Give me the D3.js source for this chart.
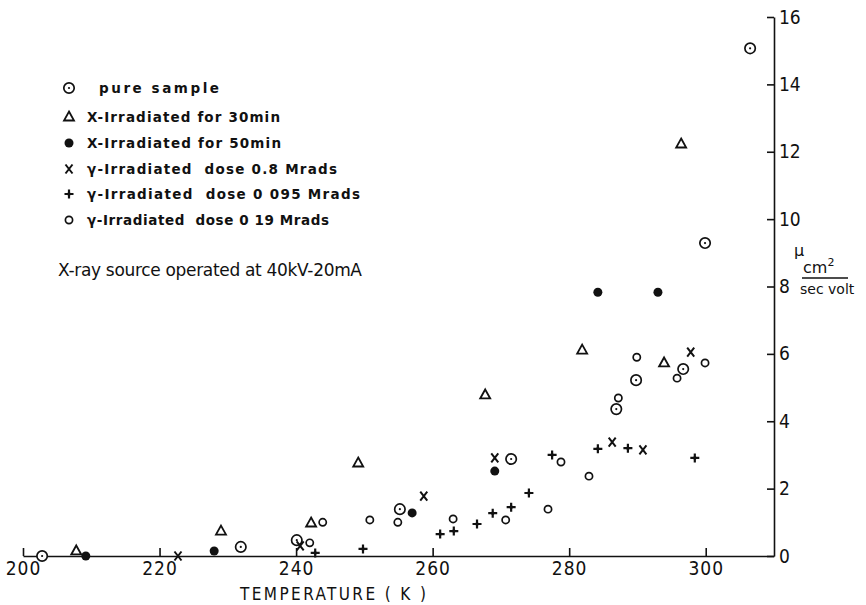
<!DOCTYPE html>
<html>
<head>
<meta charset="utf-8">
<script src="https://cdn.jsdelivr.net/npm/d3@7"></script>
<style>
  body { margin: 0; background: #fff; }
  svg { display: block; }
  text { fill: #111; }
</style>
</head>
<body>
<div id="chart-container"></div>
<script>
// Temperature (K) and mobility mu (cm2/sec volt), one pair of arrays per series
const pureT  = [202.8, 231.9, 240.1, 255.2, 271.5, 286.9, 289.8, 296.7, 299.9, 306.5];
const pureMu = [0, 0.27, 0.47, 1.39, 2.88, 4.36, 5.22, 5.55, 9.29, 15.07];

const x30T  = [207.8, 229.0, 242.2, 249.1, 267.7, 281.9, 293.9, 296.4];
const x30Mu = [0.15, 0.74, 0.98, 2.76, 4.78, 6.11, 5.73, 12.23];

const x50T  = [209.2, 228.0, 257.0, 269.1, 284.2, 293.0];
const x50Mu = [0, 0.15, 1.28, 2.52, 7.83, 7.83];

const g08T  = [222.7, 240.6, 258.7, 269.1, 286.3, 290.8, 297.8];
const g08Mu = [0, 0.3, 1.78, 2.91, 3.38, 3.15, 6.05];

const g0095T  = [242.8, 249.8, 261.1, 263.1, 266.5, 268.8, 271.5, 274.1, 277.5, 284.2, 288.6, 298.4];
const g0095Mu = [0.09, 0.21, 0.65, 0.74, 0.95, 1.27, 1.45, 1.87, 3.0, 3.18, 3.2, 2.91];

const g019T  = [242.0, 243.9, 250.8, 254.9, 263.0, 270.7, 276.9, 278.8, 282.9, 287.2, 289.9, 295.8, 299.9];
const g019Mu = [0.39, 1.0, 1.07, 1.0, 1.1, 1.07, 1.39, 2.79, 2.37, 4.69, 5.9, 5.28, 5.73];

const legendLabels = [
  "pure sample",
  "X-Irradiated for 30min",
  "X-Irradiated for 50min",
  "γ-Irradiated  dose 0.8 Mrads",
  "γ-Irradiated  dose 0 095 Mrads",
  "γ-Irradiated  dose 0 19 Mrads"
];
const xTicks = [200, 220, 240, 260, 280, 300];
const yTicks = [0, 2, 4, 6, 8, 10, 12, 14, 16];

var width = 866, height = 605;
var ink = "#111";

var svg = d3.select("#chart-container")
  .append("svg")
  .attr("width", width)
  .attr("height", height);

// scales: bottom axis runs from 200 K to the right hand axis
var x = d3.scaleLinear().domain([200, 310]).range([23, 774]);
var y = d3.scaleLinear().domain([0, 16]).range([556, 17]);

// X axis (ticks point up, into the plot)
var xAxis = svg.append("g")
  .attr("transform", "translate(0," + y(0) + ")")
  .call(d3.axisBottom(x).tickValues(xTicks).tickSizeInner(-8).tickSizeOuter(0).tickPadding(6));
xAxis.select(".domain").attr("stroke", ink).attr("stroke-width", 1.6);
xAxis.selectAll(".tick line").attr("stroke", ink).attr("stroke-width", 1.6);
xAxis.selectAll(".tick text")
  .style("font-family", "'DejaVu Sans Condensed', 'DejaVu Sans', sans-serif")
  .style("font-size", "19px")
  .style("letter-spacing", "1px")
  .attr("fill", ink);

// Y axis on the right (ticks point left)
var yAxis = svg.append("g")
  .attr("transform", "translate(" + x(310) + ",0)")
  .call(d3.axisRight(y).tickValues(yTicks).tickSizeInner(-7).tickSizeOuter(0).tickPadding(5));
yAxis.select(".domain").attr("stroke", ink).attr("stroke-width", 1.6);
yAxis.selectAll(".tick line").attr("stroke", ink).attr("stroke-width", 1.6);
yAxis.selectAll(".tick text")
  .style("font-family", "'DejaVu Sans Condensed', 'DejaVu Sans', sans-serif")
  .style("font-size", "19px")
  .attr("fill", ink);

// axis titles
svg.append("text")
  .attr("x", 333)
  .attr("y", 600)
  .attr("text-anchor", "middle")
  .attr("textLength", 186)
  .style("font-family", "'DejaVu Sans Condensed', 'DejaVu Sans', sans-serif")
  .style("font-size", "17px")
  .text("TEMPERATURE ( K )");

var unit = svg.append("g").style("font-family", "'DejaVu Sans', sans-serif");
unit.append("text").attr("x", 794).attr("y", 256).style("font-size", "16px").text("μ");
unit.append("text").attr("x", 803).attr("y", 273).style("font-size", "16px")
  .text("cm").append("tspan").attr("dy", -7).style("font-size", "11px").text("2");
unit.append("line")
  .attr("x1", 802).attr("x2", 848).attr("y1", 278).attr("y2", 278)
  .attr("stroke", ink).attr("stroke-width", 1.3);
unit.append("text").attr("x", 800).attr("y", 294).style("font-size", "14px").text("sec volt");

// marker drawing, one function per series
function drawMarker(g, kind, cx, cy) {
  if (kind === "pure") {
    g.append("circle").attr("cx", cx).attr("cy", cy).attr("r", 5.2)
      .attr("fill", "#fff").attr("stroke", ink).attr("stroke-width", 1.7);
    g.append("circle").attr("cx", cx).attr("cy", cy).attr("r", 1.1).attr("fill", ink);
  } else if (kind === "tri") {
    g.append("path")
      .attr("d", "M" + cx + "," + (cy - 5.5) + "L" + (cx + 5) + "," + (cy + 3.5) + "L" + (cx - 5) + "," + (cy + 3.5) + "Z")
      .attr("fill", "#fff").attr("stroke", ink).attr("stroke-width", 1.8);
  } else if (kind === "dot") {
    g.append("circle").attr("cx", cx).attr("cy", cy).attr("r", 4.5).attr("fill", ink);
  } else if (kind === "cross") {
    g.append("path")
      .attr("d", "M" + (cx - 3.5) + "," + (cy - 4.5) + "L" + (cx + 3.5) + "," + (cy + 4.5) +
                 "M" + (cx + 3.5) + "," + (cy - 4.5) + "L" + (cx - 3.5) + "," + (cy + 4.5))
      .attr("stroke", ink).attr("stroke-width", 2);
  } else if (kind === "plus") {
    g.append("path")
      .attr("d", "M" + (cx - 4.5) + "," + cy + "L" + (cx + 4.5) + "," + cy +
                 "M" + cx + "," + (cy - 4.5) + "L" + cx + "," + (cy + 4.5))
      .attr("stroke", ink).attr("stroke-width", 2.2);
    g.append("circle").attr("cx", cx).attr("cy", cy).attr("r", 1.8).attr("fill", ink);
  } else if (kind === "small") {
    g.append("circle").attr("cx", cx).attr("cy", cy).attr("r", 3.6)
      .attr("fill", "#fff").attr("stroke", ink).attr("stroke-width", 1.7);
  }
}

var series = [
  { kind: "pure", t: pureT, mu: pureMu },
  { kind: "tri", t: x30T, mu: x30Mu },
  { kind: "dot", t: x50T, mu: x50Mu },
  { kind: "cross", t: g08T, mu: g08Mu },
  { kind: "plus", t: g0095T, mu: g0095Mu },
  { kind: "small", t: g019T, mu: g019Mu }
];

var points = svg.append("g");
series.forEach(function (s) {
  s.t.forEach(function (t, i) {
    drawMarker(points, s.kind, x(t), y(s.mu[i]));
  });
});

// legend
var legend = svg.append("g");
var legendRows = [93, 122, 148, 174, 199, 225];
var legendX = [99, 87, 87, 87, 87, 87];
var legendW = [120, 193, 194, 250, 273, 242];
series.forEach(function (s, i) {
  drawMarker(legend, s.kind, 69, legendRows[i] - 5);
  legend.append("text")
    .attr("x", legendX[i])
    .attr("y", legendRows[i])
    .attr("textLength", legendW[i])
    .attr("lengthAdjust", "spacing")
    .style("font-family", "'DejaVu Sans', sans-serif")
    .style("font-weight", "bold")
    .style("font-size", "13.5px")
    .style("white-space", "pre")
    .text(legendLabels[i]);
});

svg.append("text")
  .attr("x", 58)
  .attr("y", 276)
  .attr("textLength", 304)
  .attr("lengthAdjust", "spacing")
  .style("font-family", "'DejaVu Sans', sans-serif")
  .style("font-size", "17px")
  .text("X-ray source operated at 40kV-20mA");
</script>
</body>
</html>
